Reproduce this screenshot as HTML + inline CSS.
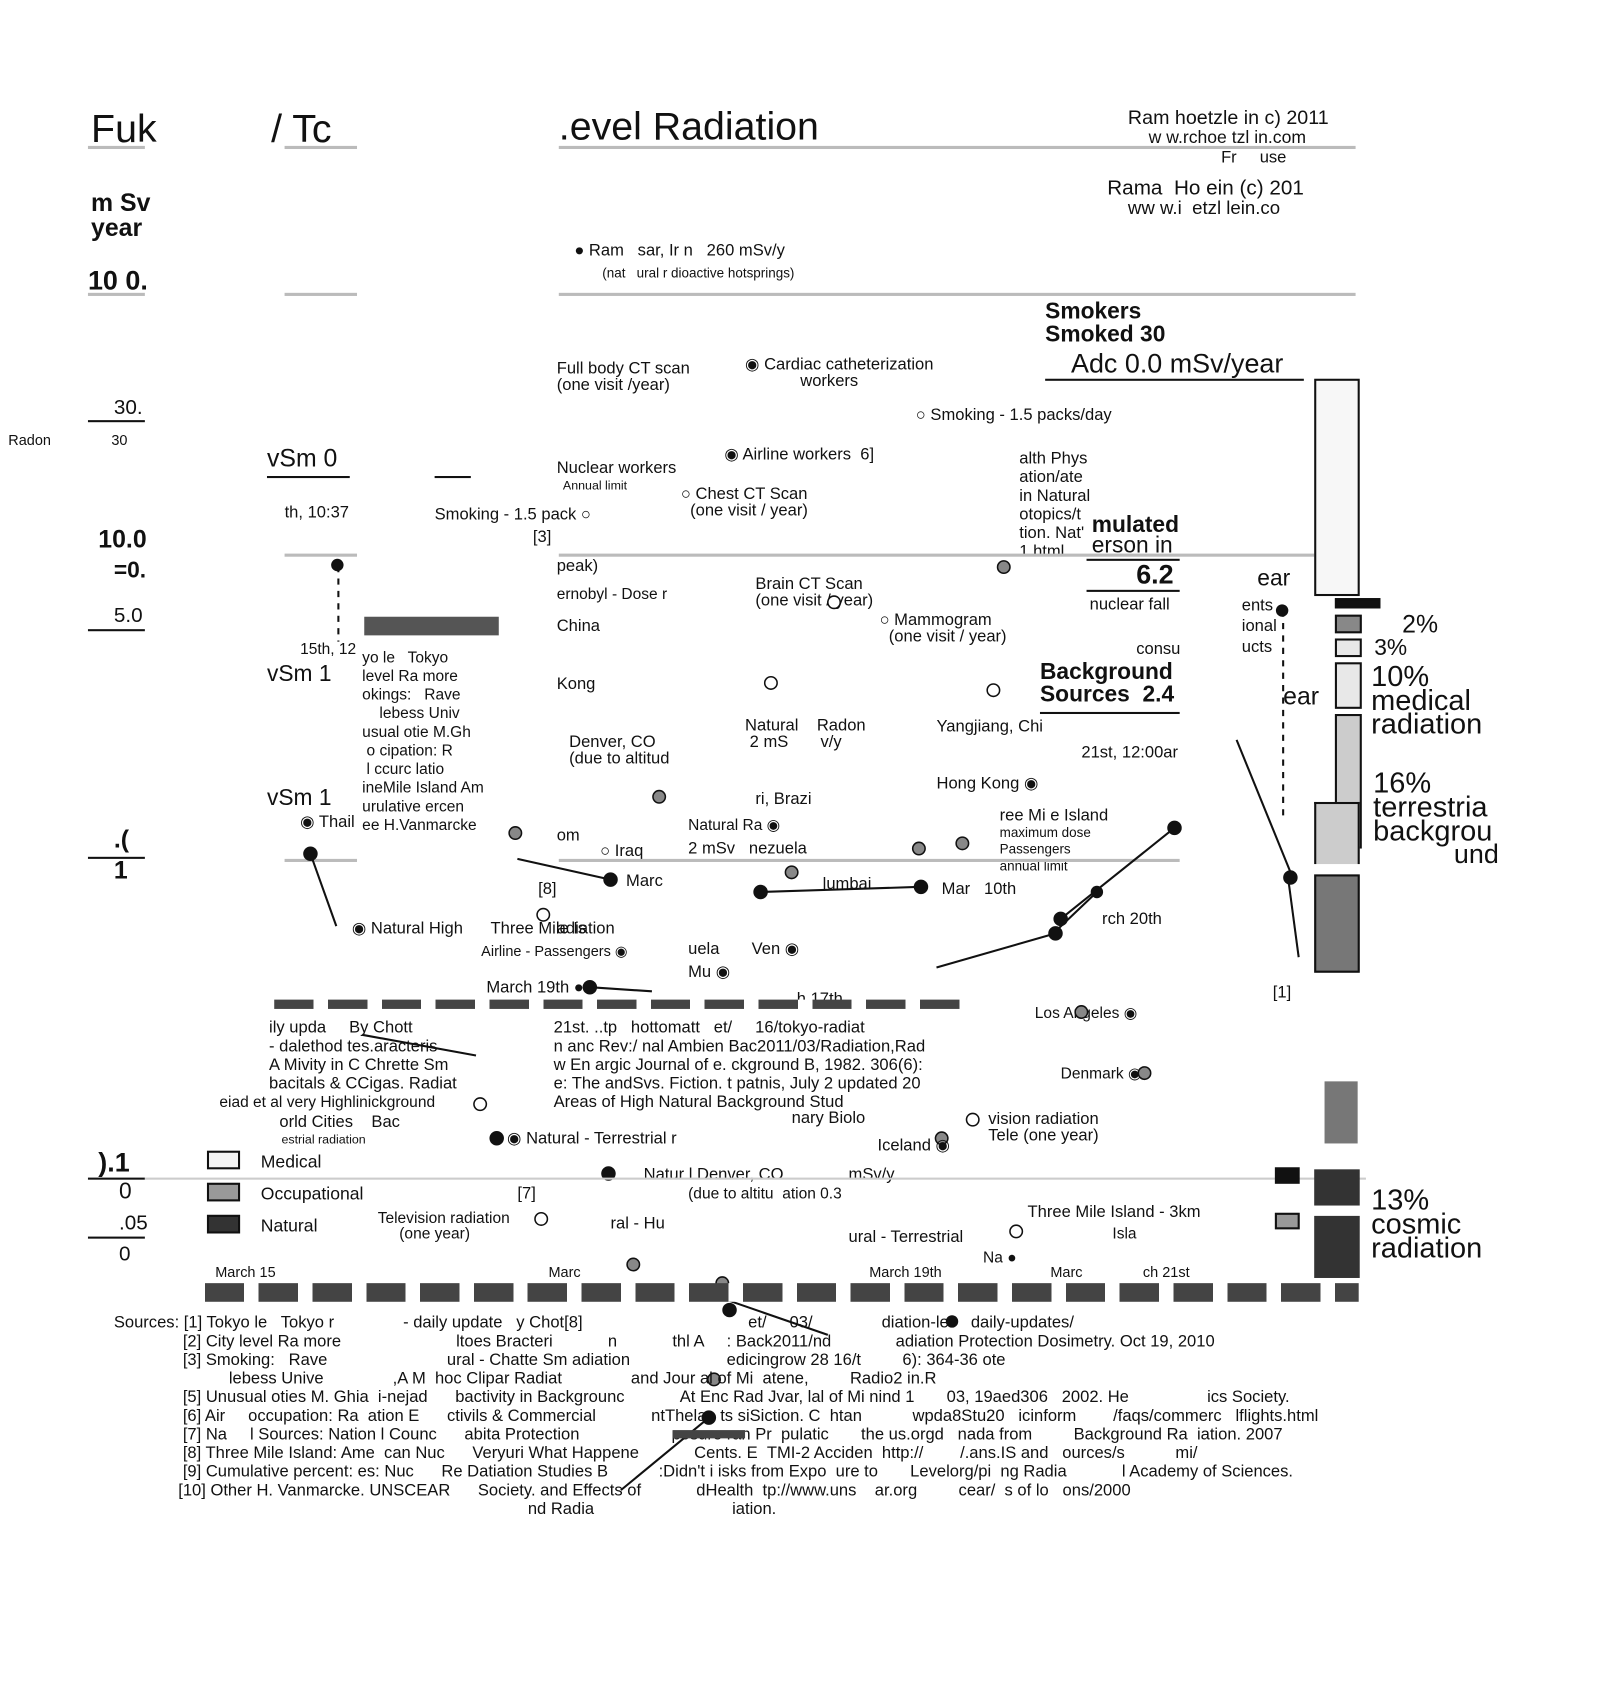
<!DOCTYPE html>
<html><head><meta charset="utf-8"><style>
body{margin:0;width:1604px;height:1632px;background:#fff;position:relative;overflow:hidden;font-family:"Liberation Sans",sans-serif;color:#111}
#wrap{position:absolute;left:0;top:0;width:1550px;height:1577px;transform:scale(1.0348);transform-origin:0 0}
.t{position:absolute;white-space:nowrap;line-height:1}
.h{position:absolute;height:3px;background:#bbb}
.k{position:absolute;height:2px;background:#111}
.d{position:absolute;border-radius:50%;width:12px;height:12px;border:1.5px solid #111;box-sizing:border-box}
.f{background:#111}.g{background:#999}.w{background:#fff}
.b{position:absolute;border:2px solid #111;box-sizing:border-box}
.dash{position:absolute;height:9px;background:repeating-linear-gradient(90deg,#444 0 38px,#fff 38px 52px)}
</style></head><body><div id="wrap">
<div class="t" style="left:88px;top:106px;font-size:38px">Fuk</div>
<div class="t" style="left:262px;top:106px;font-size:38px">/ Tc</div>
<div class="t" style="left:540px;top:104px;font-size:38px">.evel Radiation</div>
<div class="h" style="left:85px;top:141px;width:55px"></div>
<div class="h" style="left:275px;top:141px;width:70px"></div>
<div class="h" style="left:540px;top:141px;width:770px"></div>
<div class="t" style="left:1090px;top:105px;font-size:19px">Ram hoetzle in c) 2011</div>
<div class="t" style="left:1110px;top:124px;font-size:17px">w w.rchoe tzl in.com</div>
<div class="t" style="left:1180px;top:145px;font-size:16px">Fr &nbsp; &nbsp; use</div>
<div class="t" style="left:1070px;top:172px;font-size:20px">Rama &nbsp;Ho ein (c) 201</div>
<div class="t" style="left:1090px;top:192px;font-size:18px">ww w.i &nbsp;etzl lein.co</div>
<div class="t" style="left:88px;top:185px;font-size:24px;font-weight:bold">m Sv<br>year</div>
<div class="t" style="left:85px;top:258px;font-size:26px;font-weight:bold">10 0.</div>
<div class="h" style="left:85px;top:283px;width:55px"></div>
<div class="h" style="left:275px;top:283px;width:70px"></div>
<div class="h" style="left:540px;top:283px;width:770px"></div>
<div class="t" style="left:555px;top:235px;font-size:16px">● Ram &nbsp; sar, Ir n &nbsp; 260 mSv/y</div>
<div class="t" style="left:582px;top:257px;font-size:13px">(nat &nbsp; ural r dioactive hotsprings)</div>
<div class="t" style="left:1010px;top:290px;font-size:22px;font-weight:bold">Smokers<br>Smoked 30</div>
<div class="t" style="left:1035px;top:338px;font-size:26px">Adc 0.0 mSv/year</div>
<div class="k" style="left:1010px;top:366px;width:250px"></div>
<div class="t" style="left:538px;top:349px;font-size:16px">Full body CT scan<br>(one visit /year)</div>
<div class="t" style="left:720px;top:345px;font-size:16px">◉ Cardiac catheterization<br>&nbsp; &nbsp; &nbsp; &nbsp; &nbsp; &nbsp; workers</div>
<div class="t" style="left:885px;top:394px;font-size:16px">○ Smoking - 1.5 packs/day</div>
<div class="t" style="left:8px;top:418px;font-size:14px">Radon &nbsp; &nbsp; &nbsp; &nbsp; &nbsp; &nbsp; &nbsp; 30</div>
<div class="t" style="left:110px;top:384px;font-size:20px">30.</div>
<div class="k" style="left:85px;top:406px;width:55px"></div>
<div class="t" style="left:258px;top:432px;font-size:24px">vSm 0</div>
<div class="k" style="left:258px;top:460px;width:80px"></div>
<div class="k" style="left:420px;top:460px;width:35px"></div>
<div class="t" style="left:538px;top:445px;font-size:16px">Nuclear workers<br><span style="font-size:12px">&nbsp; Annual limit</span></div>
<div class="t" style="left:700px;top:432px;font-size:16px">◉ Airline workers &nbsp;6]</div>
<div class="t" style="left:658px;top:470px;font-size:16px">○ Chest CT Scan<br>&nbsp; (one visit / year)</div>
<div class="t" style="left:985px;top:435px;font-size:16px;line-height:18px">alth Phys<br>ation/ate<br>in Natural<br>otopics/t<br>tion. Nat'<br>1.html</div>
<div class="t" style="left:1055px;top:496px;font-size:22px;font-weight:bold">mulated</div>
<div class="t" style="left:1055px;top:516px;font-size:22px">erson in</div>
<div class="k" style="left:1050px;top:540px;width:90px"></div>
<div class="t" style="left:1098px;top:542px;font-size:26px;font-weight:bold">6.2</div>
<div class="k" style="left:1050px;top:570px;width:90px"></div>
<div class="t" style="left:1053px;top:577px;font-size:16px">nuclear fall</div>
<div class="t" style="left:275px;top:488px;font-size:16px">th, 10:37</div>
<div class="t" style="left:420px;top:490px;font-size:16px">Smoking - 1.5 pack ○</div>
<div class="t" style="left:515px;top:512px;font-size:16px">[3]</div>
<div class="t" style="left:95px;top:510px;font-size:24px;font-weight:bold">10.0</div>
<div class="t" style="left:110px;top:540px;font-size:22px;font-weight:bold">=0.</div>
<div class="t" style="left:110px;top:585px;font-size:20px">5.0</div>
<div class="k" style="left:85px;top:608px;width:55px"></div>
<div class="h" style="left:275px;top:535px;width:70px"></div>
<div class="h" style="left:540px;top:535px;width:770px"></div>
<div class="d f" style="left:320px;top:540px"></div>
<div class="t" style="left:538px;top:540px;font-size:16px">peak)</div>
<div class="t" style="left:538px;top:567px;font-size:15px">ernobyl - Dose r</div>
<div class="t" style="left:538px;top:598px;font-size:16px">China</div>
<div class="t" style="left:538px;top:654px;font-size:16px">Kong</div>
<div class="t" style="left:730px;top:557px;font-size:16px">Brain CT Scan<br>(one visit / year)</div>
<div class="t" style="left:850px;top:592px;font-size:16px">○ Mammogram<br>&nbsp; (one visit / year)</div>
<div class="t" style="left:1098px;top:620px;font-size:16px">consu</div>
<div class="t" style="left:1005px;top:638px;font-size:22px;font-weight:bold">Background<br>Sources &nbsp;2.4</div>
<div class="k" style="left:1005px;top:688px;width:135px"></div>
<div class="t" style="left:1045px;top:720px;font-size:16px">21st, 12:00ar</div>
<div class="t" style="left:1215px;top:548px;font-size:22px">ear</div>
<div class="t" style="left:1200px;top:576px;font-size:16px;line-height:20px">ents<br>ional<br>ucts</div>
<div class="t" style="left:1240px;top:662px;font-size:24px">ear</div>
<div class="d f" style="left:1233px;top:584px"></div>
<div class="t" style="left:290px;top:620px;font-size:15px">15th, 12</div>
<div class="t" style="left:258px;top:640px;font-size:22px">vSm 1</div>
<div class="t" style="left:350px;top:627px;font-size:15px;line-height:18px">yo le &nbsp; Tokyo<br>level Ra more<br>okings: &nbsp; Rave<br>&nbsp; &nbsp; lebess Univ<br>usual otie M.Gh<br>&nbsp;o cipation: R<br>&nbsp;l ccurc latio<br>ineMile Island Am<br>urulative ercen<br>ee H.Vanmarcke</div>
<div class="t" style="left:258px;top:760px;font-size:22px">vSm 1</div>
<div class="t" style="left:290px;top:787px;font-size:16px">◉ Thail</div>
<div class="b" style="left:352px;top:596px;width:130px;height:18px;background:#555;border:none"></div>
<div class="t" style="left:720px;top:694px;font-size:16px">Natural &nbsp; &nbsp;Radon<br>&nbsp;2 mS &nbsp; &nbsp; &nbsp; v/y</div>
<div class="t" style="left:550px;top:710px;font-size:16px">Denver, CO<br>(due to altitud</div>
<div class="t" style="left:905px;top:695px;font-size:16px">Yangjiang, Chi</div>
<div class="t" style="left:905px;top:750px;font-size:16px">Hong Kong ◉</div>
<div class="t" style="left:966px;top:781px;font-size:16px">ree Mi e Island<br><span style="font-size:13px">maximum dose<br>Passengers<br>annual limit</span></div>
<div class="t" style="left:730px;top:765px;font-size:16px">ri, Brazi</div>
<div class="t" style="left:665px;top:790px;font-size:15px">Natural Ra ◉</div>
<div class="t" style="left:665px;top:813px;font-size:16px">2 mSv &nbsp; nezuela</div>
<div class="t" style="left:580px;top:815px;font-size:16px">○ Iraq</div>
<div class="t" style="left:538px;top:800px;font-size:16px">om</div>
<div class="t" style="left:520px;top:852px;font-size:16px">[8]</div>
<div class="t" style="left:605px;top:844px;font-size:16px">Marc</div>
<div class="t" style="left:795px;top:847px;font-size:16px">lumbai</div>
<div class="t" style="left:910px;top:852px;font-size:16px">Mar &nbsp; 10th</div>
<div class="t" style="left:1065px;top:881px;font-size:16px">rch 20th</div>
<div class="t" style="left:110px;top:800px;font-size:24px;font-weight:bold">.(</div>
<div class="t" style="left:110px;top:830px;font-size:24px;font-weight:bold">1</div>
<div class="k" style="left:85px;top:828px;width:55px"></div>
<div class="h" style="left:275px;top:830px;width:70px"></div>
<div class="h" style="left:540px;top:830px;width:600px"></div>
<div class="t" style="left:340px;top:890px;font-size:16px">◉ Natural High &nbsp; &nbsp; &nbsp;Three Mile Is</div>
<div class="t" style="left:538px;top:890px;font-size:16px">adiation</div>
<div class="t" style="left:465px;top:912px;font-size:14px">Airline - Passengers ◉</div>
<div class="t" style="left:470px;top:947px;font-size:16px">March 19th ●</div>
<div class="t" style="left:665px;top:910px;font-size:16px">uela &nbsp; &nbsp; &nbsp; Ven ◉</div>
<div class="t" style="left:665px;top:932px;font-size:16px">Mu ◉</div>
<div class="t" style="left:770px;top:958px;font-size:16px">h 17th</div>
<div class="t" style="left:1000px;top:972px;font-size:15px">Los Angeles ◉</div>
<div class="t" style="left:1025px;top:1030px;font-size:15px">Denmark ◉</div>
<div class="t" style="left:1230px;top:952px;font-size:16px">[1]</div>
<svg style="position:absolute;left:0;top:0" width="1604" height="1632">
<g stroke="#111" stroke-width="2" fill="none">
<line x1="327" y1="547" x2="327" y2="620" stroke-dasharray="6,6"/>
<line x1="1240" y1="590" x2="1240" y2="790" stroke-dasharray="6,6"/>
<line x1="300" y1="825" x2="325" y2="895"/>
<line x1="590" y1="850" x2="500" y2="830"/>
<line x1="1135" y1="800" x2="1025" y2="888"/>
<line x1="1060" y1="862" x2="1020" y2="900"/>
<line x1="1020" y1="902" x2="905" y2="935"/>
<line x1="735" y1="862" x2="890" y2="857"/>
<line x1="1195" y1="715" x2="1250" y2="850"/>
<line x1="1245" y1="850" x2="1255" y2="925"/>
<line x1="570" y1="954" x2="630" y2="958"/>
<line x1="670" y1="1245" x2="800" y2="1290"/>
<line x1="685" y1="1370" x2="600" y2="1440"/>
<line x1="350" y1="1000" x2="460" y2="1020"/>
</g>
<g fill="#111"><circle cx="300" cy="825" r="7"/><circle cx="590" cy="850" r="7"/><circle cx="1135" cy="800" r="7"/><circle cx="1060" cy="862" r="6"/><circle cx="1025" cy="888" r="7"/><circle cx="1020" cy="902" r="7"/><circle cx="735" cy="862" r="7"/><circle cx="890" cy="857" r="7"/><circle cx="1247" cy="848" r="7"/><circle cx="570" cy="954" r="7"/><circle cx="705" cy="1266" r="7"/><circle cx="685" cy="1370" r="7"/><circle cx="920" cy="1277" r="6"/><circle cx="480" cy="1100" r="7"/><circle cx="588" cy="1134" r="7"/></g>
<g fill="#888" stroke="#111" stroke-width="1.5"><circle cx="637" cy="770" r="6"/><circle cx="498" cy="805" r="6"/><circle cx="765" cy="843" r="6"/><circle cx="888" cy="820" r="6"/><circle cx="930" cy="815" r="6"/><circle cx="970" cy="548" r="6"/><circle cx="1045" cy="978" r="6"/><circle cx="1106" cy="1037" r="6"/><circle cx="910" cy="1100" r="6"/><circle cx="690" cy="1333" r="6"/><circle cx="612" cy="1222" r="6"/><circle cx="698" cy="1240" r="6"/></g>
<g fill="#fff" stroke="#111" stroke-width="1.5"><circle cx="940" cy="1082" r="6"/><circle cx="982" cy="1190" r="6"/><circle cx="464" cy="1067" r="6"/><circle cx="806" cy="582" r="6"/><circle cx="745" cy="660" r="6"/><circle cx="525" cy="884" r="6"/><circle cx="523" cy="1178" r="6"/><circle cx="960" cy="667" r="6"/></g>
</svg>
<div class="dash" style="left:265px;top:966px;width:670px"></div>
<div class="dash" style="left:198px;top:1240px;width:1115px;height:18px"></div>
<div class="t" style="left:208px;top:1222px;font-size:14px">March 15</div>
<div class="t" style="left:530px;top:1222px;font-size:14px">Marc</div>
<div class="t" style="left:840px;top:1222px;font-size:14px">March 19th</div>
<div class="t" style="left:1015px;top:1222px;font-size:14px">Marc &nbsp; &nbsp; &nbsp; &nbsp; &nbsp; &nbsp; &nbsp; ch 21st</div>
<div class="t" style="left:260px;top:985px;font-size:16px;line-height:18px">ily upda &nbsp; &nbsp; By Chott<br>- dalethod tes.aracteris<br>A Mivity in C Chrette Sm<br>bacitals &amp; CCigas. Radiat</div>
<div class="t" style="left:212px;top:1058px;font-size:15px">eiad et al very Highlinickground</div>
<div class="t" style="left:270px;top:1077px;font-size:16px">orld Cities &nbsp; &nbsp;Bac</div>
<div class="t" style="left:272px;top:1095px;font-size:12px">estrial radiation</div>
<div class="t" style="left:535px;top:985px;font-size:16px;line-height:18px">21st. ..tp &nbsp; hottomatt &nbsp; et/ &nbsp; &nbsp; 16/tokyo-radiat<br>n anc Rev:/ nal Ambien Bac2011/03/Radiation,Rad<br>w En argic Journal of e. ckground B, 1982. 306(6):<br>e: The andSvs. Fiction. t patnis, July 2 updated 20<br>Areas of High Natural Background Stud</div>
<div class="t" style="left:490px;top:1093px;font-size:16px">◉ Natural - Terrestrial r</div>
<div class="t" style="left:765px;top:1073px;font-size:16px">nary Biolo</div>
<div class="t" style="left:848px;top:1100px;font-size:16px">Iceland ◉</div>
<div class="t" style="left:955px;top:1074px;font-size:16px">vision radiation<br>Tele (one year)</div>
<div class="t" style="left:622px;top:1128px;font-size:16px">Natur l Denver, CO</div>
<div class="t" style="left:665px;top:1146px;font-size:15px">(due to altitu &nbsp;ation 0.3</div>
<div class="t" style="left:820px;top:1128px;font-size:16px">mSv/y</div>
<div class="t" style="left:365px;top:1170px;font-size:15px">Television radiation<br>&nbsp; &nbsp; &nbsp;(one year)</div>
<div class="t" style="left:500px;top:1146px;font-size:16px">[7]</div>
<div class="t" style="left:590px;top:1175px;font-size:16px">ral - Hu</div>
<div class="t" style="left:820px;top:1188px;font-size:16px">ural - Terrestrial</div>
<div class="t" style="left:950px;top:1208px;font-size:15px">Na ●</div>
<div class="t" style="left:993px;top:1164px;font-size:16px">Three Mile Island - 3km</div>
<div class="t" style="left:1075px;top:1185px;font-size:15px">Isla</div>
<div class="t" style="left:95px;top:1110px;font-size:26px;font-weight:bold">).1</div>
<div class="k" style="left:85px;top:1138px;width:55px"></div>
<div class="h" style="left:140px;top:1138px;width:1180px;height:2px;background:#ccc"></div>
<div class="t" style="left:115px;top:1140px;font-size:22px">0</div>
<div class="t" style="left:115px;top:1172px;font-size:20px">.05</div>
<div class="k" style="left:85px;top:1195px;width:55px"></div>
<div class="t" style="left:115px;top:1202px;font-size:20px">0</div>
<div class="b" style="left:200px;top:1112px;width:32px;height:18px;background:#f4f4f4"></div>
<div class="b" style="left:200px;top:1143px;width:32px;height:18px;background:#999"></div>
<div class="b" style="left:200px;top:1174px;width:32px;height:18px;background:#333"></div>
<div class="t" style="left:252px;top:1114px;font-size:17px">Medical</div>
<div class="t" style="left:252px;top:1145px;font-size:17px">Occupational</div>
<div class="t" style="left:252px;top:1176px;font-size:17px">Natural</div>
<div class="b" style="left:1270px;top:366px;width:44px;height:210px;background:#f7f7f7"></div>
<div class="b" style="left:1290px;top:578px;width:44px;height:10px;background:#111"></div>
<div class="b" style="left:1290px;top:594px;width:26px;height:18px;background:#888"></div>
<div class="b" style="left:1290px;top:617px;width:26px;height:18px;background:#e8e8e8"></div>
<div class="b" style="left:1290px;top:640px;width:26px;height:45px;background:#e8e8e8"></div>
<div class="b" style="left:1290px;top:690px;width:26px;height:130px;background:#ccc"></div>
<div class="b" style="left:1270px;top:775px;width:44px;height:60px;background:#ccc;border-bottom:none"></div>
<div class="b" style="left:1270px;top:845px;width:44px;height:95px;background:#777"></div>
<div class="t" style="left:1355px;top:592px;font-size:24px">2%</div>
<div class="t" style="left:1328px;top:615px;font-size:22px">3%</div>
<div class="t" style="left:1325px;top:642px;font-size:28px;line-height:23px">10%<br>medical<br>radiation</div>
<div class="t" style="left:1327px;top:745px;font-size:28px;line-height:23px">16%<br>terrestria<br>backgrou</div>
<div class="t" style="left:1405px;top:812px;font-size:26px">und</div>
<div class="b" style="left:1280px;top:1045px;width:32px;height:60px;background:#777;border:none"></div>
<div class="b" style="left:1232px;top:1128px;width:24px;height:16px;background:#111;border:none"></div>
<div class="b" style="left:1232px;top:1172px;width:24px;height:16px;background:#999"></div>
<div class="b" style="left:1270px;top:1130px;width:44px;height:35px;background:#333;border:none"></div>
<div class="b" style="left:1270px;top:1175px;width:44px;height:60px;background:#333;border:none"></div>
<div class="t" style="left:1325px;top:1148px;font-size:28px;line-height:23px">13%<br>cosmic<br>radiation</div>
<div class="t" style="left:110px;top:1270px;font-size:16px;line-height:18px">Sources: [1] Tokyo le &nbsp; Tokyo r &nbsp; &nbsp; &nbsp; &nbsp; &nbsp; &nbsp; &nbsp; - daily update &nbsp; y Chot[8] &nbsp; &nbsp; &nbsp; &nbsp; &nbsp; &nbsp; &nbsp; &nbsp; &nbsp; &nbsp; &nbsp; &nbsp; &nbsp; &nbsp; &nbsp; &nbsp; &nbsp; &nbsp;et/ &nbsp; &nbsp; 03/ &nbsp; &nbsp; &nbsp; &nbsp; &nbsp; &nbsp; &nbsp; diation-lev &nbsp; daily-updates/<br>
&nbsp; &nbsp; &nbsp; &nbsp; &nbsp; &nbsp; &nbsp; &nbsp;[2] City level Ra more &nbsp; &nbsp; &nbsp; &nbsp; &nbsp; &nbsp; &nbsp; &nbsp; &nbsp; &nbsp; &nbsp; &nbsp; ltoes Bracteri &nbsp; &nbsp; &nbsp; &nbsp; &nbsp; &nbsp;n &nbsp; &nbsp; &nbsp; &nbsp; &nbsp; &nbsp;thl A &nbsp; &nbsp; : Back2011/nd &nbsp; &nbsp; &nbsp; &nbsp; &nbsp; &nbsp; &nbsp;adiation Protection Dosimetry. Oct 19, 2010<br>
&nbsp; &nbsp; &nbsp; &nbsp; &nbsp; &nbsp; &nbsp; &nbsp;[3] Smoking: &nbsp; Rave &nbsp; &nbsp; &nbsp; &nbsp; &nbsp; &nbsp; &nbsp; &nbsp; &nbsp; &nbsp; &nbsp; &nbsp; &nbsp;ural - Chatte Sm adiation &nbsp; &nbsp; &nbsp; &nbsp; &nbsp; &nbsp; &nbsp; &nbsp; &nbsp; &nbsp; edicingrow 28 16/t &nbsp; &nbsp; &nbsp; &nbsp; 6): 364-36 ote<br>
&nbsp; &nbsp; &nbsp; &nbsp; &nbsp; &nbsp; &nbsp; &nbsp; &nbsp; &nbsp; &nbsp; &nbsp; &nbsp;lebess Unive &nbsp; &nbsp; &nbsp; &nbsp; &nbsp; &nbsp; &nbsp; ,A M &nbsp;hoc Clipar Radiat &nbsp; &nbsp; &nbsp; &nbsp; &nbsp; &nbsp; &nbsp; and Jour al of Mi &nbsp;atene, &nbsp; &nbsp; &nbsp; &nbsp; Radio2 in.R<br>
&nbsp; &nbsp; &nbsp; &nbsp; &nbsp; &nbsp; &nbsp; &nbsp;[5] Unusual oties M. Ghia &nbsp;i-nejad &nbsp; &nbsp; &nbsp;bactivity in Backgrounc &nbsp; &nbsp; &nbsp; &nbsp; &nbsp; &nbsp;At Enc Rad Jvar, lal of Mi nind 1 &nbsp; &nbsp; &nbsp; 03, 19aed306 &nbsp; 2002. He &nbsp; &nbsp; &nbsp; &nbsp; &nbsp; &nbsp; &nbsp; &nbsp; ics Society.<br>
&nbsp; &nbsp; &nbsp; &nbsp; &nbsp; &nbsp; &nbsp; &nbsp;[6] Air &nbsp; &nbsp; occupation: Ra &nbsp;ation E &nbsp; &nbsp; &nbsp;ctivils &amp; Commercial &nbsp; &nbsp; &nbsp; &nbsp; &nbsp; &nbsp;ntThela &nbsp; ts siSiction. C &nbsp;htan &nbsp; &nbsp; &nbsp; &nbsp; &nbsp; wpda8Stu20 &nbsp; icinform &nbsp; &nbsp; &nbsp; &nbsp;/faqs/commerc &nbsp; lflights.html<br>
&nbsp; &nbsp; &nbsp; &nbsp; &nbsp; &nbsp; &nbsp; &nbsp;[7] Na &nbsp; &nbsp; l Sources: Nation l Counc &nbsp; &nbsp; &nbsp;abita Protection &nbsp; &nbsp; &nbsp; &nbsp; &nbsp; &nbsp; &nbsp; &nbsp; &nbsp; &nbsp;posure ran Pr &nbsp;pulatic &nbsp; &nbsp; &nbsp; the us.orgd &nbsp; nada from &nbsp; &nbsp; &nbsp; &nbsp; Background Ra &nbsp;iation. 2007<br>
&nbsp; &nbsp; &nbsp; &nbsp; &nbsp; &nbsp; &nbsp; &nbsp;[8] Three Mile Island: Ame &nbsp;can Nuc &nbsp; &nbsp; &nbsp;Veryuri What Happene &nbsp; &nbsp; &nbsp; &nbsp; &nbsp; &nbsp;Cents. E &nbsp;TMI-2 Acciden &nbsp;http:// &nbsp; &nbsp; &nbsp; &nbsp;/.ans.IS and &nbsp; ources/s &nbsp; &nbsp; &nbsp; &nbsp; &nbsp; mi/<br>
&nbsp; &nbsp; &nbsp; &nbsp; &nbsp; &nbsp; &nbsp; &nbsp;[9] Cumulative percent: es: Nuc &nbsp; &nbsp; &nbsp;Re Datiation Studies B &nbsp; &nbsp; &nbsp; &nbsp; &nbsp; :Didn't i isks from Expo &nbsp;ure to &nbsp; &nbsp; &nbsp; Levelorg/pi &nbsp;ng Radia &nbsp; &nbsp; &nbsp; &nbsp; &nbsp; &nbsp;l Academy of Sciences.<br>
&nbsp; &nbsp; &nbsp; &nbsp; &nbsp; &nbsp; &nbsp; [10] Other H. Vanmarcke. UNSCEAR &nbsp; &nbsp; &nbsp;Society. and Effects of &nbsp; &nbsp; &nbsp; &nbsp; &nbsp; &nbsp;dHealth &nbsp;tp://www.uns &nbsp; &nbsp;ar.org &nbsp; &nbsp; &nbsp; &nbsp; cear/ &nbsp;s of lo &nbsp; ons/2000<br>
&nbsp; &nbsp; &nbsp; &nbsp; &nbsp; &nbsp; &nbsp; &nbsp; &nbsp; &nbsp; &nbsp; &nbsp; &nbsp; &nbsp; &nbsp; &nbsp; &nbsp; &nbsp; &nbsp; &nbsp; &nbsp; &nbsp; &nbsp; &nbsp; &nbsp; &nbsp; &nbsp; &nbsp; &nbsp; &nbsp; &nbsp; &nbsp; &nbsp; &nbsp; &nbsp; &nbsp; &nbsp; &nbsp; &nbsp; &nbsp; &nbsp; &nbsp; &nbsp; &nbsp; &nbsp; nd Radia &nbsp; &nbsp; &nbsp; &nbsp; &nbsp; &nbsp; &nbsp; &nbsp; &nbsp; &nbsp; &nbsp; &nbsp; &nbsp; &nbsp; &nbsp;iation.</div>
<div class="b" style="left:650px;top:1382px;width:70px;height:8px;background:#444;border:none"></div>
</div></body></html>
